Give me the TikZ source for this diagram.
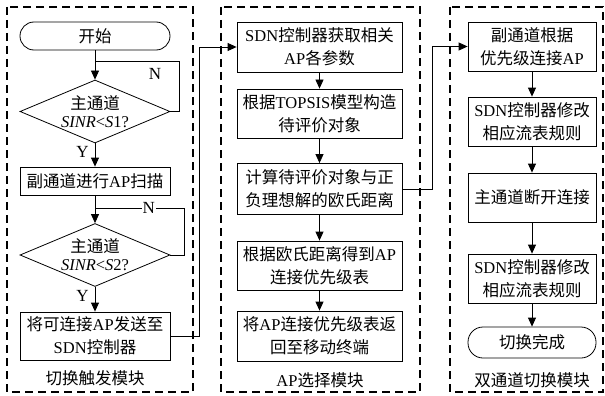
\documentclass[tikz,border=0pt]{standalone}
\usepackage{fontspec}
\setmainfont{Noto Sans CJK SC}
\newfontfamily\latfont{Liberation Serif}
\newcommand{\en}[1]{{\latfont #1}}
\usetikzlibrary{shapes.geometric}
\usetikzlibrary{arrows.meta}

\begin{document}
\begin{tikzpicture}[x=1pt,y=-1pt,
	>={Triangle[length=9pt,width=8pt]},
	box/.style={draw,line width=0.8pt,align=center,inner sep=0pt,
		font=\fontsize{16.5}{23}\selectfont},
	term/.style={box,minimum width=150pt,rounded corners=14pt},
	cond/.style={draw,diamond,line width=0.8pt,align=center,inner sep=-2pt,
		aspect=2.3,minimum width=150pt,minimum height=63pt,
		font=\fontsize{16.5}{18}\selectfont},
	frame/.style={dash pattern=on 8pt off 5pt,line width=1.2pt},
	tag/.style={font=\fontsize{16.5}{18}\selectfont},
	yn/.style={font=\latfont\fontsize{17}{18}\selectfont,inner sep=1pt}]
	\useasboundingbox (0,0) rectangle (605,396);
	% frames
	\draw[frame] (7,7) rectangle (193,392);
	\draw[frame] (221,7) rectangle (420,392);
	\draw[frame] (450,7) rectangle (603,392);
	% trigger module
	\node[term,minimum height=28pt] (start) at (95,36) {开始};
	\node[cond] (cond1) at (95,111.5) {主通道\\\en{\textit{SINR}<\textit{S}1?}};
	\node[box,minimum width=150pt,minimum height=28pt] (scan) at (95,181) {副通道进行\en{AP}扫描};
	\node[cond] (cond2) at (95,255) {主通道\\\en{\textit{SINR}<\textit{S}2?}};
	\node[box,minimum width=150pt,minimum height=48pt] (send) at (95,336) {将可连接\en{AP}发送至\\\en{SDN}控制器};
	\node[tag] (tag1) at (95,378) {切换触发模块};
	\coordinate (join1) at (95,61);
	\coordinate (join2) at (95,208);
	% AP selection module
	\node[box,minimum width=165pt,minimum height=50pt] (ap1) at (319.5,47) {\en{SDN}控制器获取相关\\\en{AP}各参数};
	\node[box,minimum width=165pt,minimum height=49pt] (ap2) at (319.5,113.5) {根据\en{TOPSIS}模型构造\\待评价对象};
	\node[box,minimum width=165pt,minimum height=51pt] (ap3) at (319.5,189) {计算待评价对象与正\\负理想解的欧氏距离};
	\node[box,minimum width=165pt,minimum height=49pt] (ap4) at (319.5,265.5) {根据欧氏距离得到\en{AP}\\连接优先级表};
	\node[box,minimum width=165pt,minimum height=50pt] (ap5) at (319.5,336) {将\en{AP}连接优先级表返\\回至移动终端};
	\node[tag] (tag2) at (320,380) {\en{AP}选择模块};
	% dual channel switching module
	\node[box,minimum width=128pt,minimum height=49pt] (sw1) at (532,46.5) {副通道根据\\优先级连接\en{AP}};
	\node[box,minimum width=128pt,minimum height=49pt] (sw2) at (532,121.5) {\en{SDN}控制器修改\\相应流表规则};
	\node[box,minimum width=128pt,minimum height=49pt] (sw3) at (532,197.5) {主通道断开连接};
	\node[box,minimum width=128pt,minimum height=49pt] (sw4) at (532,278.5) {\en{SDN}控制器修改\\相应流表规则};
	\node[term,minimum width=128pt,minimum height=31pt,rounded corners=15pt] (done) at (532,342.5) {切换完成};
	\node[tag] (tag3) at (532,380) {双通道切换模块};
	% connectors
	\draw[line width=0.8pt,->] (start) -- (cond1);
	\draw[line width=0.8pt] (cond1.east) -- ++(9,0) |- (join1);
	\node[yn] at (155,74) {N};
	\draw[line width=0.8pt,->] (cond1) -- node[yn,pos=0.35,left=5pt] {Y} (scan);
	\draw[line width=0.8pt,->] (scan) -- (cond2);
	\draw[line width=0.8pt] (cond2.east) -- ++(14,0) |- node[yn,pos=0.7,fill=white] {N} (join2);
	\draw[line width=0.8pt,->] (cond2) -- node[yn,pos=0.35,left=5pt] {Y} (send);
	\draw[line width=0.8pt,->] (send.east) -- (199,336) |- (ap1.west);
	\draw[line width=0.8pt,->] (ap1) -- (ap2);
	\draw[line width=0.8pt,->] (ap2) -- (ap3);
	\draw[line width=0.8pt,->] (ap3) -- (ap4);
	\draw[line width=0.8pt,->] (ap4) -- (ap5);
	\draw[line width=0.8pt,->] (ap3.east) -- (432,189) |- (sw1.west);
	\draw[line width=0.8pt,->] (sw1) -- (sw2);
	\draw[line width=0.8pt,->] (sw2) -- (sw3);
	\draw[line width=0.8pt,->] (sw3) -- (sw4);
	\draw[line width=0.8pt,->] (sw4) -- (done);
\end{tikzpicture}
\end{document}
